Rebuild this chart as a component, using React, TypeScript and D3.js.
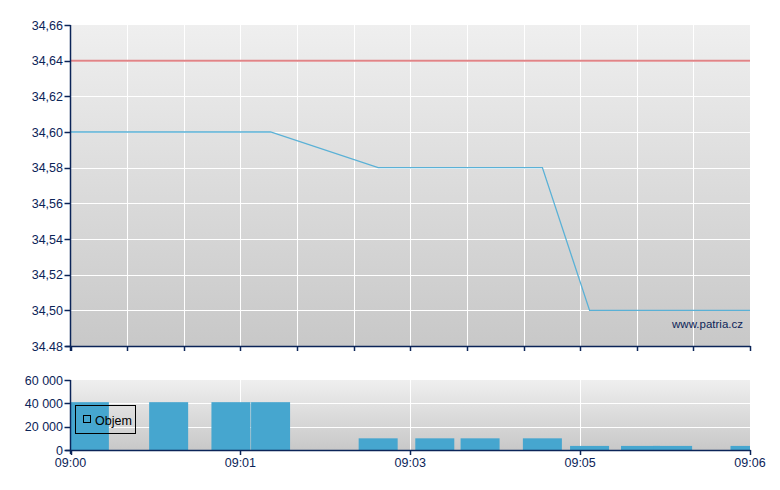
import * as d3 from "d3";
import { useEffect } from "react";

// trades: seconds after 09:00, price, volume
const tradeSec = [10, 52, 85, 106, 163, 193, 217, 250, 275, 302, 319, 360];
const tradePrice = [34.6, 34.6, 34.6, 34.6, 34.58, 34.58, 34.58, 34.58, 34.5, 34.5, 34.5, 34.5];
const tradeVolume = [41000, 41000, 41000, 41000, 10000, 10000, 10000, 10000, 3500, 3500, 3500, 3500];
const prevClose = 34.64;

const priceTicks = [34.48, 34.5, 34.52, 34.54, 34.56, 34.58, 34.6, 34.62, 34.64, 34.66];
const priceTickLabels = ["34.48", "34,50", "34,52", "34,54", "34,56", "34,58", "34,60", "34,62", "34,64", "34,66"];
const volumeTicks = [0, 20000, 40000, 60000];
const volumeTickLabels = ["0", "20 000", "40 000", "60 000"];
const timeTicks = [0, 90, 180, 270, 360];
const timeTickLabels = ["09:00", "09:01", "09:03", "09:05", "09:06"];

const W = 780,
  H = 490;
const left = 70.5,
  right = 750;
const top1 = 25,
  bot1 = 346;
const top2 = 380,
  bot2 = 450;
const navy = "#0b2458";
const font = "'Liberation Sans', Arial, sans-serif";

const App = () => {
  useEffect(() => {
    document.body.style.margin = "0";
  }, []);

  const x = d3.scaleLinear().domain([0, 360]).range([left, right]);
  const y = d3.scaleLinear().domain([34.48, 34.66]).range([bot1, top1]);
  const yv = d3.scaleLinear().domain([0, 60000]).range([bot2, top2]);
  const minorTicks = d3.range(0, 361, 30);

  const lineData: [number, number][] = [[0, tradePrice[0]], ...tradeSec.map((t, i) => [t, tradePrice[i]] as [number, number])];
  const line = d3
    .line<[number, number]>()
    .x((d) => x(d[0]))
    .y((d) => y(d[1]));

  const barW = 39;

  return (
    <svg width={W} height={H} style={{ position: "absolute", left: 0, top: 0, background: "#fff" }} fontFamily={font}>
      <defs>
        <linearGradient id="bg" x1="0" y1="0" x2="0" y2="1">
          <stop offset="0" stopColor="#efefef" />
          <stop offset="1" stopColor="#c8c8c8" />
        </linearGradient>
        <clipPath id="c1">
          <rect x={left} y={top1} width={right - left} height={bot1 - top1} />
        </clipPath>
        <clipPath id="c2">
          <rect x={left} y={top2} width={right - left} height={bot2 - top2} />
        </clipPath>
      </defs>

      {/* price panel */}
      <rect x={left} y={top1} width={right - left} height={bot1 - top1} fill="url(#bg)" />
      {priceTicks.slice(1, -1).map((v) => (
        <line key={v} x1={left} x2={right} y1={Math.round(y(v)) + 0.5} y2={Math.round(y(v)) + 0.5} stroke="#fff" />
      ))}
      {minorTicks.slice(1, -1).map((t) => (
        <line key={t} x1={Math.round(x(t)) + 0.5} x2={Math.round(x(t)) + 0.5} y1={top1} y2={bot1} stroke="#fff" />
      ))}
      <g clipPath="url(#c1)">
        <line x1={left} x2={right} y1={y(prevClose)} y2={y(prevClose)} stroke="#e08487" strokeWidth={2} />
        <path d={line(lineData) ?? ""} fill="none" stroke="#5ab1d6" strokeWidth={1.3} />
      </g>
      <text x={743} y={328} textAnchor="end" fontSize={11.5} fill={navy}>
        www.patria.cz
      </text>
      <line x1={left} x2={left} y1={top1} y2={bot1 + 5} stroke={navy} strokeWidth={1.5} />
      <line x1={left - 5} x2={right + 0.5} y1={bot1 + 0.5} y2={bot1 + 0.5} stroke={navy} strokeWidth={1.5} />
      {priceTicks.map((v, i) => (
        <g key={v}>
          <line x1={left - 6} x2={left} y1={Math.round(y(v)) + 0.5} y2={Math.round(y(v)) + 0.5} stroke={navy} strokeWidth={1.5} />
          <text x={63} y={y(v) + 4.5} textAnchor="end" fontSize={12.5} fill={navy}>
            {priceTickLabels[i]}
          </text>
        </g>
      ))}
      {minorTicks.map((t) => (
        <line key={t} x1={Math.round(x(t)) + 0.5} x2={Math.round(x(t)) + 0.5} y1={bot1} y2={bot1 + 5} stroke={navy} strokeWidth={1.5} />
      ))}

      {/* volume panel */}
      <rect x={left} y={top2} width={right - left} height={bot2 - top2} fill="url(#bg)" />
      {volumeTicks.slice(1, -1).map((v) => (
        <line key={v} x1={left} x2={right} y1={Math.round(yv(v)) + 0.5} y2={Math.round(yv(v)) + 0.5} stroke="#fff" />
      ))}
      {timeTicks.slice(1, -1).map((t) => (
        <line key={t} x1={Math.round(x(t)) + 0.5} x2={Math.round(x(t)) + 0.5} y1={top2} y2={bot2} stroke="#fff" />
      ))}
      <g clipPath="url(#c2)">
        {tradeSec.map((t, i) => (
          <rect key={i} x={x(t) - barW / 2} y={yv(tradeVolume[i])} width={barW} height={bot2 - yv(tradeVolume[i])} fill="#46a6cf" />
        ))}
      </g>
      <line x1={left} x2={left} y1={top2} y2={bot2 + 4} stroke={navy} strokeWidth={1.5} />
      <line x1={left - 5} x2={right + 0.5} y1={bot2 + 0.5} y2={bot2 + 0.5} stroke={navy} strokeWidth={1.5} />
      {volumeTicks.map((v, i) => (
        <g key={v}>
          <line x1={left - 6} x2={left} y1={Math.round(yv(v)) + 0.5} y2={Math.round(yv(v)) + 0.5} stroke={navy} strokeWidth={1.5} />
          <text x={63} y={yv(v) + 4.5} textAnchor="end" fontSize={12.5} fill={navy}>
            {volumeTickLabels[i]}
          </text>
        </g>
      ))}
      {timeTicks.map((t, i) => (
        <g key={t}>
          <line x1={Math.round(x(t)) + 0.5} x2={Math.round(x(t)) + 0.5} y1={bot2} y2={bot2 + 5} stroke={navy} strokeWidth={1.5} />
          <text x={x(t)} y={467} textAnchor="middle" fontSize={12.5} fill={navy}>
            {timeTickLabels[i]}
          </text>
        </g>
      ))}

      {/* legend */}
      <rect x={75.5} y={405.5} width={60} height={28} fill="none" stroke="#000" />
      <rect x={83.5} y={415.5} width={7} height={7} fill="none" stroke="#000" />
      <text x={95} y={425} fontSize={12.5} fill="#000">
        Objem
      </text>
    </svg>
  );
};

export default App;
